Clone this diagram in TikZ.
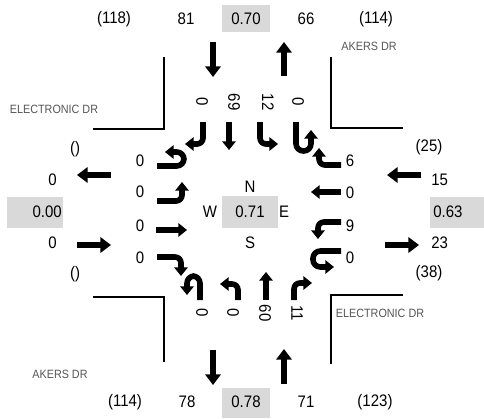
\documentclass[tikz,border=0pt]{standalone}
\usepackage{fontspec}
\setmainfont{Liberation Sans}[FakeStretch=0.9]
\usetikzlibrary{arrows.meta}
\definecolor{boxgray}{HTML}{D9D9D9}
\definecolor{roadtxt}{HTML}{555555}
\begin{document}
\begin{tikzpicture}[x=0.75pt,y=-0.75pt,
  num/.style={font=\fontsize{12.5}{14}\selectfont, inner sep=0pt},
  roadname/.style={font=\fontsize{9}{10}\selectfont, text=roadtxt, inner sep=0pt},
  gbox/.style={fill=boxgray, draw=none},
  curb/.style={line width=1.6pt},
  appr/.style={line width=5.2pt, -{Triangle[width=11.5pt,length=8pt]}},
  lane/.style={line width=4.2pt, -{Triangle[width=10pt,length=6.5pt]}, rounded corners=4.5pt},
  uturn/.style={line width=4.2pt, -{Triangle[width=10pt,length=6.5pt]}, rounded corners=5.5pt}]
\useasboundingbox (0,0) rectangle (484,418);

% gray boxes
\fill[gbox] (222,5) rectangle (270,32);
\fill[gbox] (222,388) rectangle (270,418);
\fill[gbox] (7,197) rectangle (63,228);
\fill[gbox] (430,197) rectangle (484,228);
\fill[gbox] (222,196) rectangle (278,228);

% curb lines
\draw[curb] (164,57) -- (164,129) -- (93,129);
\draw[curb] (331,57) -- (331,128) -- (403,128);
\draw[curb] (93,297) -- (164,297) -- (164,362);
\draw[curb] (403,295) -- (331,295) -- (331,364);

% road names
\node[roadname] (akN) at (369,46) {AKERS DR};
\node[roadname] (akS) at (60,374) {AKERS DR};
\node[roadname] (elW) at (54,109) {ELECTRONIC DR};
\node[roadname] (elE) at (380,313) {ELECTRONIC DR};

% top numbers
\node[num] (tA) at (114,19) {(118)};
\node[num] (tB) at (186,19) {81};
\node[num] (tC) at (246,19) {0.70};
\node[num] (tD) at (306,19) {66};
\node[num] (tE) at (376,19) {(114)};
% bottom numbers
\node[num] (bA) at (125,402) {(114)};
\node[num] (bB) at (187,402) {78};
\node[num] (bC) at (246,402) {0.78};
\node[num] (bD) at (306,402) {71};
\node[num] (bE) at (375,402) {(123)};
% left numbers
\node[num] (lA) at (75,149) {()};
\node[num, anchor=east] (lB) at (57,180) {0};
\node[num, anchor=east] (lC) at (62,212) {0.00};
\node[num, anchor=east] (lD) at (57,243) {0};
\node[num] (lE) at (75,274) {()};
% right numbers
\node[num] (rA) at (429,147) {(25)};
\node[num, anchor=west] (rB) at (431,180) {15};
\node[num, anchor=west] (rC) at (433,212) {0.63};
\node[num, anchor=west] (rD) at (431,243) {23};
\node[num] (rE) at (429,273) {(38)};

% center
\node[num] (cN) at (250,187) {N};
\node[num] (cV) at (250,212) {0.71};
\node[num] (cW) at (210,212) {W};
\node[num] (cE) at (284,212) {E};
\node[num] (cS) at (250,243) {S};

% lane volume labels
\node[num, rotate=-90] (sv1) at (202,102) {0};
\node[num, rotate=-90] (sv2) at (234,102) {69};
\node[num, rotate=-90] (sv3) at (268,102) {12};
\node[num, rotate=-90] (sv4) at (298,102) {0};
\node[num, rotate=-90] (nv1) at (202,313) {0};
\node[num, rotate=-90] (nv2) at (233,313) {0};
\node[num, rotate=-90] (nv3) at (265,313) {60};
\node[num, rotate=-90] (nv4) at (297,313) {11};
\node[num] (ev1) at (140,161) {0};
\node[num] (ev2) at (140,192) {0};
\node[num] (ev3) at (140,226) {0};
\node[num] (ev4) at (140,258) {0};
\node[num] (wv1) at (350,161) {6};
\node[num] (wv2) at (350,193) {0};
\node[num] (wv3) at (350,226) {9};
\node[num] (wv4) at (350,258) {0};

% approach arrows
\coordinate (aNi1) at (213,42); \coordinate (aNi2) at (213,77);
\coordinate (aNo1) at (284,76); \coordinate (aNo2) at (284,42);
\coordinate (aSi1) at (284,384); \coordinate (aSi2) at (284,349);
\coordinate (aSo1) at (213,350); \coordinate (aSo2) at (213,385);
\coordinate (aWo1) at (111,175); \coordinate (aWo2) at (77,175);
\coordinate (aWi1) at (77,245); \coordinate (aWi2) at (111,245);
\coordinate (aEi1) at (421,175); \coordinate (aEi2) at (387,175);
\coordinate (aEo1) at (385,245); \coordinate (aEo2) at (419,245);
\draw[appr] (aNi1) -- (aNi2);
\draw[appr] (aNo1) -- (aNo2);
\draw[appr] (aSi1) -- (aSi2);
\draw[appr] (aSo1) -- (aSo2);
\draw[appr] (aWo1) -- (aWo2);
\draw[appr] (aWi1) -- (aWi2);
\draw[appr] (aEi1) -- (aEi2);
\draw[appr] (aEo1) -- (aEo2);

% southbound lanes
\draw[lane] (203,122) |- (185,144);
\draw[lane] (229,122) -- (229,150);
\draw[lane] (260,122) |- (278,144);
\draw[uturn] (296,122) -- (296,151) -- (311,151) -- (311,130);
% northbound lanes
\draw[uturn] (200,300) -- (200,276) -- (187,276) -- (187,295);
\draw[lane] (238,300) |- (220,284);
\draw[lane] (266,300) -- (266,272);
\draw[lane] (294,300) |- (312,283);
% eastbound lanes
\draw[uturn] (157,166) -- (184,166) -- (184,152) -- (165,152);
\draw[lane] (157,201) -| (182,182);
\draw[lane] (156,230) -- (187,230);
\draw[lane] (157,257) -| (181,276);
% westbound lanes
\draw[lane] (341,165) -| (319,148);
\draw[lane] (341,192) -- (311,192);
\draw[lane] (341,222) -| (318,239);
\draw[uturn] (341,251) -- (313,251) -- (313,267) -- (334,267);
\end{tikzpicture}
\end{document}
